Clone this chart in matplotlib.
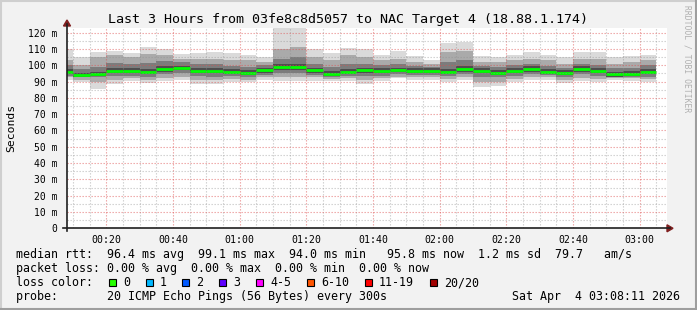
import numpy as np
from matplotlib import pyplot as plt
from matplotlib.lines import Line2D
from matplotlib.patches import Rectangle, Polygon

# 5 dakikalik bin baslangiclari (00:00'dan itibaren dakika)
bin_start = np.arange(5, 185, 5)

median = [96.1, 94.0, 94.7, 96.7, 96.7, 96.1, 97.9, 98.3, 96.7, 96.7, 96.1, 95.5,
          97.1, 99.0, 99.0, 97.1, 94.9, 96.1, 97.1, 96.7, 97.3, 96.7, 96.7, 96.1,
          97.9, 96.7, 95.5, 96.7, 97.9, 96.1, 95.5, 97.9, 96.7, 94.3, 94.9, 96.1]
outer_hi = [109.8, 104.9, 108.3, 109.0, 107.7, 111.4, 110.2, 106.9, 107.7, 108.3, 107.7, 106.5,
            105.3, 125.0, 125.0, 109.8, 107.7, 110.8, 109.8, 106.3, 109.0, 105.7, 103.3, 113.3,
            114.3, 105.7, 105.3, 106.3, 108.3, 106.3, 104.9, 108.3, 108.3, 104.9, 105.7, 106.3]
outer_lo = [91.0, 89.6, 85.3, 88.3, 90.4, 88.9, 90.4, 91.0, 88.3, 88.3, 89.9, 89.6,
            91.0, 90.4, 90.4, 90.4, 90.4, 90.4, 88.3, 90.4, 92.0, 91.0, 91.0, 89.9,
            91.0, 86.9, 87.3, 89.9, 91.0, 91.0, 88.9, 90.4, 89.4, 91.0, 90.4, 89.9]
mid_hi = [103, 100, 105, 106, 105, 107, 106, 104, 104, 104, 103, 103,
          102, 110, 111, 105, 103, 106, 105, 103, 104, 102, 101, 108,
          109, 102, 102, 103, 104, 103, 101, 104, 104, 101, 102, 103]
mid_lo = [92.5, 91, 90, 91, 92, 91, 92, 93, 91, 91, 91.5, 91,
          92.5, 92.5, 92.5, 92.5, 91.5, 92, 91, 92, 93, 92.5, 92.5, 91.5,
          92.5, 89.5, 90, 91.5, 92.5, 92.5, 91, 92, 91.5, 92, 92, 91.5]
dark_hi = [100, 97.5, 99, 101.5, 100.5, 101.5, 102.5, 102, 100.5, 100.5, 99.5, 99,
           100, 104, 105, 100.5, 99, 101, 101, 100, 100.5, 99.5, 99, 102,
           103, 99.5, 99, 100, 101, 99.5, 98.5, 101, 100, 98, 98.5, 100]
dark_lo = [93.5, 92.5, 92.5, 93.5, 93.5, 93, 94.5, 95, 93.5, 93, 93.5, 92.5,
           94, 95, 95, 94, 93, 93.5, 93.5, 93.5, 94.5, 94, 94, 93.5,
           94.5, 92.5, 92.5, 93.5, 94.5, 94, 92.5, 94.5, 93.5, 92.5, 93, 93]
core_hi = [97.5, 95.5, 96, 98, 98, 97.5, 99.5, 99.5, 98, 98, 97.5, 97,
           98.5, 100.5, 101, 98.5, 96.5, 97.5, 98.5, 98, 98.5, 98, 98, 97.5,
           99.5, 98, 97, 98, 99.5, 97.5, 97, 99.5, 98, 96, 96.5, 97.5]
core_lo = [94.5, 93, 93.5, 95, 95, 94.5, 96, 97, 95, 95, 94.5, 94,
           95.5, 97, 97, 95.5, 93.5, 94.5, 95.5, 95, 96, 95, 95, 94.5,
           96, 95, 94, 95, 96, 94.5, 94, 96, 95, 93, 93.5, 94.5]

y_ticks = [0, 10, 20, 30, 40, 50, 60, 70, 80, 90, 100, 110, 120]
y_labels = ["0", "10 m", "20 m", "30 m", "40 m", "50 m", "60 m", "70 m", "80 m",
            "90 m", "100 m", "110 m", "120 m"]
x_ticks = [20, 40, 60, 80, 100, 120, 140, 160, 180]
x_labels = ["00:20", "00:40", "01:00", "01:20", "01:40", "02:00", "02:20", "02:40", "03:00"]

loss_labels = ["0", "1", "2", "3", "4-5", "6-10", "11-19", "20/20"]
loss_colors = ["#26ff00", "#00b8ff", "#0059ff", "#5e00ff", "#ff00ff", "#ff5500", "#ff0000", "#a10000"]

title = "Last 3 Hours from 03fe8c8d5057 to NAC Target 4 (18.88.1.174)"
rtt_line = "median rtt:  96.4 ms avg  99.1 ms max  94.0 ms min   95.8 ms now  1.2 ms sd  79.7   am/s"
loss_line = "packet loss: 0.00 % avg  0.00 % max  0.00 % min  0.00 % now"
probe_line = "probe:       20 ICMP Echo Pings (56 Bytes) every 300s"
stamp = "Sat Apr  4 03:08:11 2026"

plt.rcParams['font.family'] = 'DejaVu Sans Mono'

W, H = 697, 310
fig = plt.figure(figsize=(W / 100, H / 100), dpi=100, facecolor='#f2f2f2')

def fx(x):
    return x / W

def fy(y):
    return 1 - y / H

# cizim alani (piksel)
L, R, T, B = 67, 667, 28, 228.3
ax = fig.add_axes([fx(L), fy(B), fx(R - L), (B - T) / H])
ax.set_facecolor('white')
ax.set_xlim(8 + 11 / 60, 188 + 11 / 60)
ax.set_ylim(0, 122.8)

# duman katmanlari
bands = [(outer_lo, outer_hi, '#dadada'), (mid_lo, mid_hi, '#aaaaaa'),
         (dark_lo, dark_hi, '#7c7c7c'), (core_lo, core_hi, '#4e4e4e')]
for lo, hi, c in bands:
    lo = np.array(lo)
    hi = np.array(hi)
    ax.bar(bin_start, hi - lo, bottom=lo, width=5, align='edge', color=c, linewidth=0, zorder=1)

ax.hlines(median, bin_start, bin_start + 5, colors='#00ff00', linewidth=2.0, zorder=3)

# izgara
for m in range(10, 189, 5):
    major = m % 20 == 0
    ax.axvline(m, color=(0.87, 0.31, 0.31, 0.55) if major else (0.56, 0.56, 0.56, 0.45),
               linewidth=0.8, linestyle=(0, (1.2, 1.5)), zorder=4)
for v in range(5, 121, 5):
    major = v % 10 == 0
    ax.axhline(v, color=(0.87, 0.31, 0.31, 0.55) if major else (0.56, 0.56, 0.56, 0.45),
               linewidth=0.8, linestyle=(0, (1.2, 1.5)), zorder=4)

ax.set_xticks(x_ticks)
ax.set_xticklabels(x_labels, fontsize=7.1)
ax.set_yticks(y_ticks)
ax.set_yticklabels(y_labels, fontsize=7.0)
ax.tick_params(length=0, pad=7)
ax.tick_params(axis='x', pad=5)
for s in ax.spines.values():
    s.set_visible(False)

# eksen cizgileri ve oklar
axis_col = (0.12, 0.12, 0.12)
arrow_col = (0.5, 0.12, 0.12)
fig.add_artist(Line2D([fx(63), fx(670)], [fy(B), fy(B)], color=axis_col, linewidth=1.2))
fig.add_artist(Line2D([fx(L), fx(L)], [fy(231), fy(24)], color=axis_col, linewidth=1.2))
fig.add_artist(Polygon([[fx(667), fy(B - 3.5)], [fx(667), fy(B + 3.5)], [fx(673), fy(B)]],
                       closed=True, color=arrow_col))
fig.add_artist(Polygon([[fx(L - 3.5), fy(26)], [fx(L + 3.5), fy(26)], [fx(L), fy(20)]],
                       closed=True, color=arrow_col))

fig.text(fx(348), fy(19), title, fontsize=9.6, ha='center', va='center')
fig.text(fx(11), fy(128), "Seconds", fontsize=8.2, rotation=90, ha='center', va='center')
fig.text(fx(687), fy(5), "RRDTOOL / TOBI OETIKER", fontsize=5.8, rotation=270,
         ha='center', va='top', color='#b0b0b0')

# legend satirlari
fs = 8.4
fig.text(fx(16), fy(254.5), rtt_line, fontsize=fs, va='center')
fig.text(fx(16), fy(268.5), loss_line, fontsize=fs, va='center')
fig.text(fx(16), fy(282.5), "loss color:", fontsize=fs, va='center')
fig.text(fx(16), fy(296.5), probe_line, fontsize=fs, va='center')
fig.text(fx(680), fy(296.5), stamp, fontsize=fs, va='center', ha='right')

box_x = [109, 145.7, 182.3, 219.3, 256, 307.3, 365, 430]
for bx, lab, col in zip(box_x, loss_labels, loss_colors):
    fig.add_artist(Rectangle((fx(bx), fy(286)), fx(7), 7 / H, facecolor=col,
                             edgecolor='black', linewidth=0.8))
    fig.text(fx(bx + 14), fy(282.5), lab, fontsize=fs, va='center')

# cerceve golgesi
fig.add_artist(Line2D([0, 1], [fy(0.8), fy(0.8)], color='#cfcfcf', linewidth=1.5))
fig.add_artist(Line2D([fx(0.8), fx(0.8)], [0, 1], color='#cfcfcf', linewidth=1.5))
fig.add_artist(Line2D([0, 1], [fy(H - 1), fy(H - 1)], color='#9e9e9e', linewidth=1.5))
fig.add_artist(Line2D([fx(W - 1), fx(W - 1)], [0, 1], color='#9e9e9e', linewidth=1.5))

plt.savefig('out.png', dpi=100, facecolor=fig.get_facecolor())
